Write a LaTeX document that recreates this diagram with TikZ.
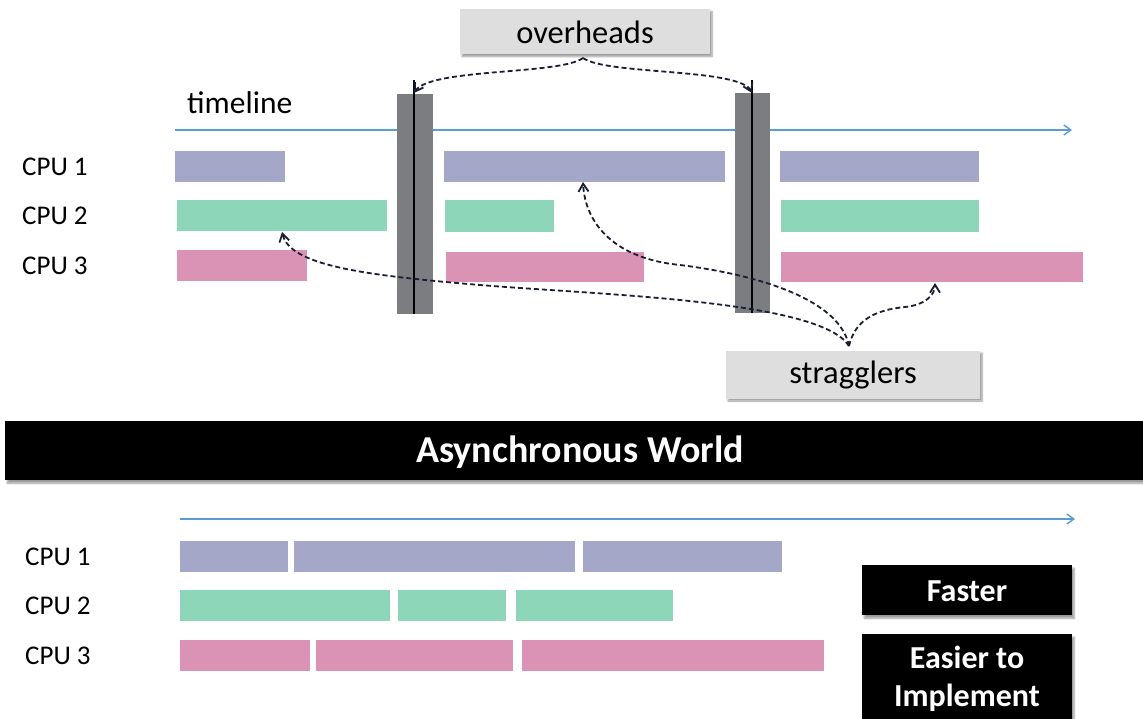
\documentclass[tikz,border=0pt]{standalone}
\usepackage{fontspec}
\setmainfont{Carlito}
\usetikzlibrary{arrows.meta,shadows.blur}
\definecolor{cpuA}{RGB}{164,167,199}
\definecolor{cpuB}{RGB}{142,214,186}
\definecolor{cpuC}{RGB}{219,147,181}
\definecolor{tline}{RGB}{91,155,213}
\definecolor{barrier}{RGB}{124,125,129}
\definecolor{lblbg}{RGB}{222,222,222}
\definecolor{dashc}{RGB}{25,30,50}
\tikzset{
  bar/.style={anchor=north west, inner sep=0pt, draw=none},
  barA/.style={bar, fill=cpuA},
  barB/.style={bar, fill=cpuB},
  barC/.style={bar, fill=cpuC},
  cpulbl/.style={anchor=west, font=\fontsize{27}{32}\selectfont, inner sep=0pt},
  tarrow/.style={draw=tline, line width=1.4pt, -{Straight Barb[length=7pt,width=10pt]}},
  graylbl/.style={fill=lblbg, inner sep=0pt, font=\fontsize{32.5}{38}\selectfont,
    blur shadow={shadow xshift=2pt, shadow yshift=-2pt, shadow blur steps=6, shadow opacity=40}},
  blackbox/.style={fill=black, inner sep=0pt,
    blur shadow={shadow xshift=2pt, shadow yshift=-3pt, shadow blur steps=6, shadow opacity=40}},
  boxtext/.style={text=white, font=\bfseries\fontsize{32}{38}\selectfont, inner sep=0pt, align=center},
  conn/.style={draw=dashc, line width=1.8pt, dash pattern=on 5pt off 3pt, -{Straight Barb[length=8pt,width=10pt]}},
  barrierbox/.style={fill=barrier, anchor=north west, inner sep=0pt},
}
\begin{document}
\begin{tikzpicture}[x=1pt,y=-1pt]
\useasboundingbox (0,0) rectangle (1143,719);
% ---------- top: synchronous ----------
\node[anchor=west, inner sep=0pt, font=\fontsize{31.5}{36}\selectfont] (tl) at (187,103) {timeline};
\coordinate (ts) at (175,130);
\coordinate (te) at (1072,130);
\draw[tarrow] (ts) -- (te);

\node[cpulbl] (c1) at (22,167) {CPU 1};
\node[cpulbl] (c2) at (22,216) {CPU 2};
\node[cpulbl] (c3) at (22,266) {CPU 3};

\node[barA, minimum width=110pt, minimum height=31pt] (a11) at (175,151) {};
\node[barA, minimum width=281pt, minimum height=31pt] (a12) at (444,151) {};
\node[barA, minimum width=199pt, minimum height=31pt] (a13) at (780,151) {};
\node[barB, minimum width=210pt, minimum height=31pt] (a21) at (177,200) {};
\node[barB, minimum width=109pt, minimum height=32pt] (a22) at (445,200) {};
\node[barB, minimum width=198pt, minimum height=32pt] (a23) at (781,200) {};
\node[barC, minimum width=130pt, minimum height=31pt] (a31) at (177,250) {};
\node[barC, minimum width=198pt, minimum height=30pt] (a32) at (446,252) {};
\node[barC, minimum width=302pt, minimum height=30pt] (a33) at (781,252) {};

% barriers
\node[barrierbox, minimum width=36pt, minimum height=220pt] (g1) at (397,94) {};
\node[barrierbox, minimum width=35pt, minimum height=220pt] (g2) at (735,93) {};
\coordinate (g1t) at (414,80);
\coordinate (g1b) at (414,314);
\coordinate (g2t) at (752,80);
\coordinate (g2b) at (752,313);
\draw[line width=1.5pt] (g1t) -- (g1b);
\draw[line width=1.5pt] (g2t) -- (g2b);

% overheads
\node[graylbl, minimum width=250pt, minimum height=45pt] (ovh) at (585,32) {overheads};
\coordinate (oh) at (583,58);
\coordinate (o1) at (414,93);
\coordinate (o2) at (752,93);
\draw[conn] (oh) .. controls (560,75) and (430,68) .. (o1);
\draw[conn] (oh) .. controls (606,75) and (740,68) .. (o2);

% stragglers
\node[graylbl, minimum width=254pt, minimum height=48pt] (str) at (853,375) {stragglers};
\coordinate (sh) at (849,346);
\coordinate (s1) at (282,232);
\coordinate (s2) at (583,182);
\coordinate (s3) at (935,283);
\draw[conn] (sh) .. controls (820,300) and (600,295) .. (480,285) .. controls (360,275) and (290,265) .. (s1);
\draw[conn] (sh) .. controls (840,300) and (760,275) .. (680,265) .. controls (610,258) and (585,220) .. (s2);
\draw[conn] (sh) .. controls (855,320) and (875,310) .. (905,307) .. controls (925,305) and (935,295) .. (s3);

% ---------- band ----------
\node[blackbox, minimum width=1138pt, minimum height=59pt, anchor=north west] (band) at (5,421) {};
\node[boxtext, font=\bfseries\fontsize{38}{44}\selectfont] (bandt) at (580,452) {Asynchronous World};

% ---------- bottom: asynchronous ----------
\coordinate (bs) at (180,519);
\coordinate (be) at (1075,519);
\draw[tarrow] (bs) -- (be);

\node[cpulbl] (d1) at (25,557) {CPU 1};
\node[cpulbl] (d2) at (25,606) {CPU 2};
\node[cpulbl] (d3) at (25,656) {CPU 3};

\node[barA, minimum width=108pt, minimum height=31pt] (b11) at (180,541) {};
\node[barA, minimum width=281pt, minimum height=31pt] (b12) at (294,541) {};
\node[barA, minimum width=199pt, minimum height=31pt] (b13) at (583,541) {};
\node[barB, minimum width=210pt, minimum height=31pt] (b21) at (180,590) {};
\node[barB, minimum width=108pt, minimum height=31pt] (b22) at (398,590) {};
\node[barB, minimum width=157pt, minimum height=31pt] (b23) at (516,590) {};
\node[barC, minimum width=130pt, minimum height=31pt] (b31) at (180,640) {};
\node[barC, minimum width=197pt, minimum height=31pt] (b32) at (316,640) {};
\node[barC, minimum width=302pt, minimum height=31pt] (b33) at (522,640) {};

\node[blackbox, minimum width=210pt, minimum height=50pt, anchor=north west] (fast) at (862,565) {};
\node[boxtext] (fastt) at (967,591) {Faster};
\node[blackbox, minimum width=210pt, minimum height=90pt, anchor=north west] (easy) at (862,634) {};
\node[boxtext] (easyt) at (967,679) {Easier to\\Implement};
\end{tikzpicture}
\end{document}
